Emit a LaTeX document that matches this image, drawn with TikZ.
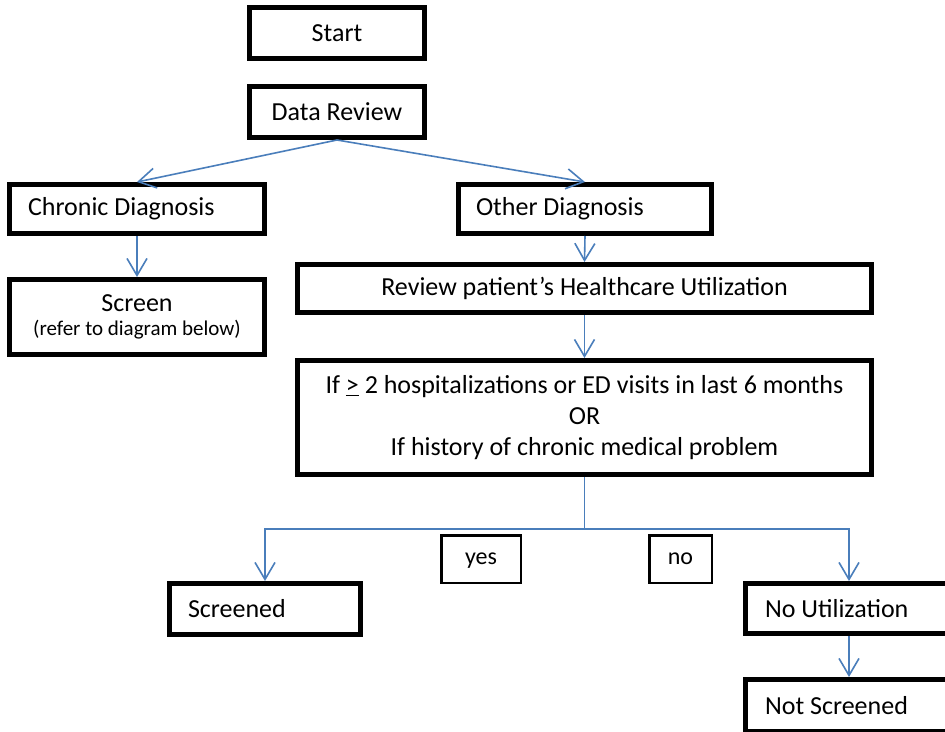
\documentclass[tikz,border=0pt]{standalone}
\usepackage{fontspec}
\setmainfont{Carlito}
\usetikzlibrary{arrows.meta}
\definecolor{linkblue}{HTML}{4A7EBB}
\newcommand{\lefttext}[2]{\makebox[#1][l]{#2}}
\begin{document}
\begin{tikzpicture}[x=1pt,y=-1pt,
  tbox/.style={draw=black, line width=5pt, inner sep=0pt, fill=white,
    font=\fontsize{26}{31}\selectfont},
  sbox/.style={draw=black, line width=2.5pt, inner sep=0pt, fill=white,
    font=\fontsize{24}{29}\selectfont, text height=11pt, text depth=0pt},
  bline/.style={draw=linkblue, line width=1.6pt},
  conn/.style={bline, -{Straight Barb[length=17pt,width=20pt,line width=1.6pt]}}]
\useasboundingbox (0,0) rectangle (945,731);
\clip (0,0) rectangle (945,731);
\fill[white] (0,0) rectangle (945,731);

\node[tbox, minimum width=175pt, minimum height=51pt] (st) at (337,33) {Start};
\node[tbox, minimum width=175pt, minimum height=51pt] (dr) at (337,112) {Data Review};
\node[tbox, minimum width=255pt, minimum height=49pt] (cd) at (137,209) {\lefttext{218pt}{Chronic Diagnosis}};
\node[tbox, minimum width=253pt, minimum height=49pt] (od) at (585,209) {\lefttext{218pt}{Other Diagnosis}};
\node[tbox, align=center, minimum width=255pt, minimum height=75pt] (scr) at (137,317)
  {Screen\\[-7pt]{\fontsize{21}{24}\selectfont (refer to diagram below)}};
\node[tbox, minimum width=574pt, minimum height=48pt] (rev) at (584.5,288.5) {Review patient’s Healthcare Utilization};
\node[tbox, align=center, minimum width=574pt, minimum height=114pt] (if) at (584.5,417.5)
  {If \underline{>} 2 hospitalizations or ED visits in last 6 months\\OR\\If history of chronic medical problem};
\node[sbox, minimum width=79.5pt, minimum height=47.5pt] (yes) at (481,559) {yes};
\node[sbox, minimum width=62.5pt, minimum height=47.5pt] (no) at (680.5,559) {no};
\node[tbox, minimum width=191pt, minimum height=51pt] (sd) at (265,609) {\lefttext{154pt}{Screened}};
\node[tbox, minimum width=207pt, minimum height=50pt] (nu) at (849,608.5) {\lefttext{168pt}{No Utilization}};
\node[tbox, minimum width=207pt, minimum height=52pt] (ns) at (849,705.5) {\lefttext{168pt}{Not Screened}};

\coordinate (j) at (584.5,529);
\draw[conn] (dr.south) -- (cd.north);
\draw[conn] (dr.south) -- (od.north);
\draw[conn] (cd.south) -- (scr.north);
\draw[conn] (od.south) -- (rev.north);
\draw[conn] (rev.south) -- (if.north);
\draw[bline] (if.south) -- (j);
\draw[conn] (j) -| (sd.north);
\draw[conn] (j) -| (nu.north);
\draw[conn] (nu.south) -- (ns.north);
\end{tikzpicture}
\end{document}
